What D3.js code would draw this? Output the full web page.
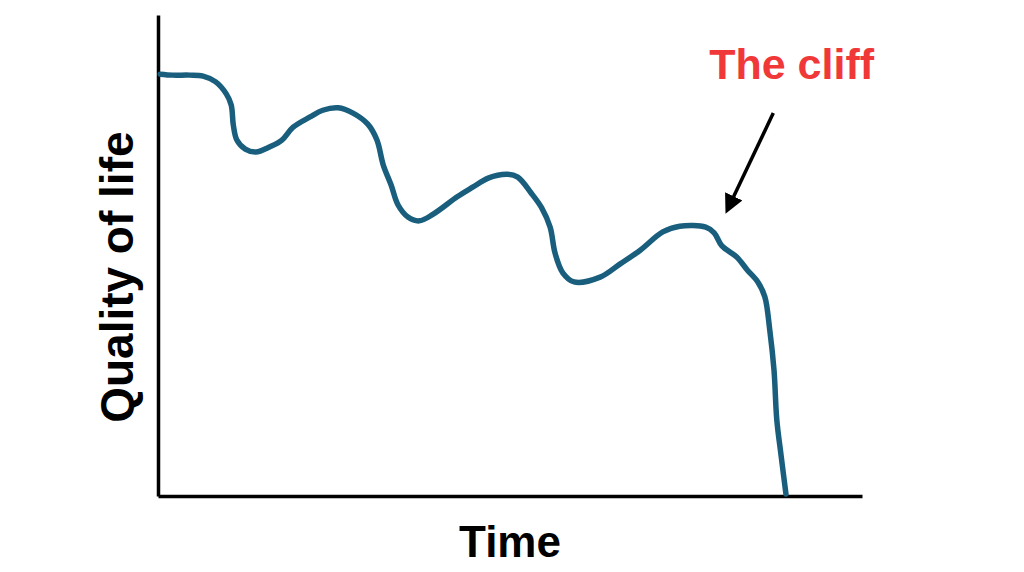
<!DOCTYPE html>
<html>
<head>
<meta charset="utf-8">
<script src="https://cdn.jsdelivr.net/npm/d3@7"></script>
<style>
  body { margin: 0; background: #fff; }
  svg text { font-family: "Liberation Sans", Arial, sans-serif; font-weight: bold; }
</style>
</head>
<body>
<svg class="cliff-chart"></svg>
<script>
// hand-drawn curve (time 0-100, quality 0-100)
let time = [0.3, 2.1, 4.5, 6.4, 8.2, 9.7, 10.4, 10.7, 11.2, 12.4, 13.9, 15.9, 17.6, 19.2, 21.6, 23.4,
    25.6, 27.7, 29.8, 31.1, 32.0, 33.1, 34.1, 35.5, 37.1, 39.1, 42.5, 44.7, 46.9, 49.6, 51.1, 53.0,
    54.5, 55.7, 56.4, 57.5, 59.1, 62.8, 65.6, 68.5, 71.7, 74.1, 77.8, 79.0, 80.1, 82.2, 83.7, 85.2,
    86.2, 86.9, 87.5, 87.9, 88.5, 89.2];
let quality = [87.7, 87.5, 87.5, 87.3, 86.1, 83.6, 81.3, 77.1, 74.0, 72.1, 71.5, 72.6, 74.0, 76.7, 78.8, 80.2,
    80.7, 79.6, 77.3, 74.0, 68.8, 64.7, 60.5, 58.0, 57.2, 58.6, 62.2, 64.2, 66.1, 66.9, 66.3, 63.0,
    59.9, 55.9, 50.5, 46.4, 44.5, 45.5, 48.2, 51.1, 54.9, 56.1, 55.9, 54.7, 52.0, 49.7, 47.0, 44.5,
    41.4, 34.5, 26.2, 15.8, 8.5, 0.4];

let xLabel = "Time", yLabel = "Quality of life", noteLabel = "The cliff";
// arrow annotation, from / to in data units
let arrowFrom = [87.4, 79.6], arrowTo = [81.2, 60.5];
let notePos = [78.3, 86.6];

let width = 1024, height = 572;
let svg = d3.select('.cliff-chart')
    .attr("width", width)
    .attr("height", height);

let x = d3.scaleLinear().domain([0, 100]).range([158, 862]);
let y = d3.scaleLinear().domain([0, 100]).range([496, 15]);

// axes are bare lines, no ticks
svg.append("g")
    .attr("transform", "translate(0," + y(0) + ")")
    .call(d3.axisBottom(x).tickValues([]).tickSizeOuter(0))
    .select(".domain")
    .attr("stroke", "#000")
    .attr("stroke-width", 3.5);

svg.append("g")
    .attr("transform", "translate(" + x(0) + ",0)")
    .call(d3.axisLeft(y).tickValues([]).tickSizeOuter(0))
    .select(".domain")
    .attr("stroke", "#000")
    .attr("stroke-width", 3.5);

let points = time.map((t, i) => [t, quality[i]]);

let line = d3.line()
    .x(d => x(d[0]))
    .y(d => y(d[1]))
    .curve(d3.curveCatmullRom.alpha(0.5));

svg.append("path")
    .datum(points)
    .attr("d", line)
    .attr("fill", "none")
    .attr("stroke", "#1a5e7e")
    .attr("stroke-width", 5.5)
    .attr("stroke-linecap", "round")
    .attr("stroke-linejoin", "round");

// axis titles
svg.append("text")
    .attr("x", (x(0) + x(100)) / 2)
    .attr("y", 557)
    .attr("text-anchor", "middle")
    .attr("font-size", 44)
    .attr("fill", "#000")
    .text(xLabel);

svg.append("text")
    .attr("transform", "translate(133," + y(45.5) + ") rotate(-90)")
    .attr("text-anchor", "middle")
    .attr("font-size", 46)
    .attr("fill", "#000")
    .text(yLabel);

// annotation
svg.append("defs").append("marker")
    .attr("id", "head")
    .attr("viewBox", "0 0 10 10")
    .attr("refX", 5)
    .attr("refY", 5)
    .attr("markerWidth", 5.5)
    .attr("markerHeight", 5.5)
    .attr("orient", "auto")
    .append("path")
    .attr("d", "M0,0 L10,5 L0,10 Z")
    .attr("fill", "#000");

svg.append("line")
    .attr("x1", x(arrowFrom[0]))
    .attr("y1", y(arrowFrom[1]))
    .attr("x2", x(arrowTo[0]))
    .attr("y2", y(arrowTo[1]))
    .attr("stroke", "#000")
    .attr("stroke-width", 3.5)
    .attr("marker-end", "url(#head)");

svg.append("text")
    .attr("x", x(notePos[0]))
    .attr("y", y(notePos[1]))
    .attr("font-size", 43)
    .attr("fill", "#f03838")
    .text(noteLabel);
</script>
</body>
</html>
